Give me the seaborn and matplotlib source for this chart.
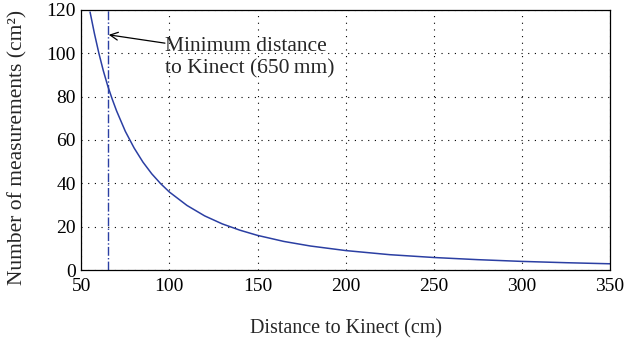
import numpy as np
import pandas as pd
import matplotlib
matplotlib.use('Agg')
import matplotlib.pyplot as plt
import seaborn as sns

# values
distance = [55, 57.5, 60, 62.5, 65, 67.5, 70, 75, 80, 85, 90, 95, 100, 110, 120, 130, 140,
            150, 165, 180, 200, 225, 250, 275, 300, 325, 350]
measurements = [119, 109, 100, 92, 85, 79, 73.5, 64, 56.3, 49.8, 44.4, 39.9, 36, 29.8, 25,
                21.3, 18.4, 16, 13.2, 11.1, 9, 7.1, 5.8, 4.8, 4, 3.4, 2.9]
min_distance = 65  # cm
x_ticks = [50, 100, 150, 200, 250, 300, 350]
y_ticks = [0, 20, 40, 60, 80, 100, 120]

df = pd.DataFrame({'distance': distance, 'measurements': measurements})

sns.set_style('white')
plt.rcParams['font.family'] = ['Liberation Serif', 'DejaVu Serif']

fig = plt.figure(figsize=(6.25, 3.41), dpi=100)
ax = fig.add_axes([0.130, 0.208, 0.846, 0.763])

sns.lineplot(data=df, x='distance', y='measurements', color='#2b3fa3', linewidth=1.1, ax=ax)
ax.axvline(min_distance, color='#2b3fa3', linestyle='-.', linewidth=1.0)

ax.annotate('Minimum distance\nto Kinect (650\u2009mm)', xy=(65.6, 108.5), xytext=(97.5, 107.5),
            fontsize=15.5, ha='left', va='top', linespacing=1.2,
            arrowprops=dict(arrowstyle='->', color='black', lw=0.9, shrinkA=0, shrinkB=0,
                            mutation_scale=14, relpos=(0, 0.85)),
            bbox=dict(facecolor='none', edgecolor='none', pad=0))

ax.set_xlim(50, 350)
ax.set_ylim(0, 120)
ax.set_xticks(x_ticks)
ax.set_yticks(y_ticks)
ax.tick_params(direction='in', length=4, width=0.9, labelsize=14, colors='black')
ax.tick_params(axis='x', pad=6)
ax.tick_params(axis='y', pad=4)
ax.grid(True, color='black', linestyle=(0, (1, 5)), linewidth=0.8)
for s in ax.spines.values():
    s.set_color('black')
    s.set_linewidth(0.9)

ax.set_xlabel('Distance to Kinect (cm)', fontsize=14.5, labelpad=17)
ax.set_ylabel('Number of measurements (cm²)', fontsize=15.5)
ax.yaxis.set_label_coords(-0.102, 0.47)

fig.savefig('out.png', dpi=100)
